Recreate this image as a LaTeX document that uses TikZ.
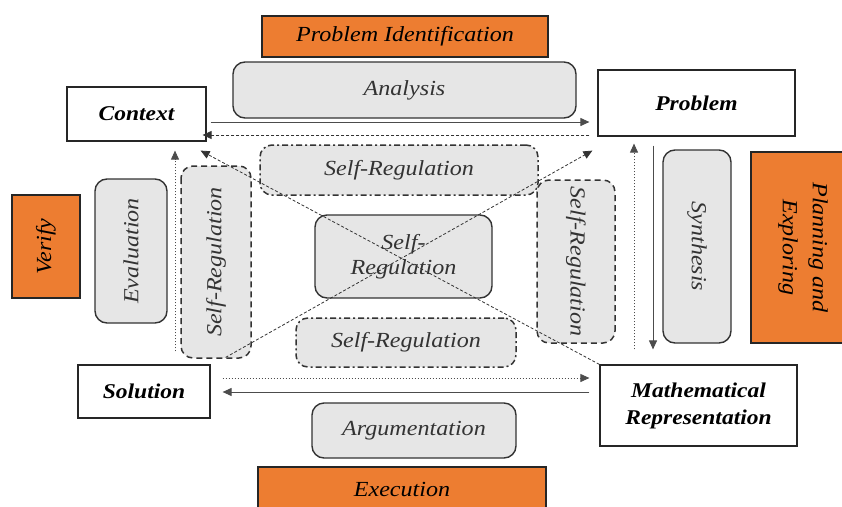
\documentclass[tikz,border=0pt]{standalone}
\usepackage{fontspec}
\setmainfont{Liberation Serif}[FakeStretch=1.12]
\usetikzlibrary{arrows.meta,calc}
\definecolor{orangeC}{HTML}{ED7D31}
\definecolor{grayC}{HTML}{E6E6E6}
\begin{document}
\begin{tikzpicture}[x=1pt,y=-1pt,
  every node/.style={inner sep=0pt, align=center},
  txt/.style={font=\fontsize{21.5}{25}\selectfont\itshape},
  btxt/.style={font=\fontsize{21}{27}\selectfont\bfseries\itshape},
  orangebox/.style={draw=black!85, line width=1.3pt, fill=orangeC, txt},
  graybox/.style={draw=black!80, line width=1.4pt, fill=grayC, rounded corners=12pt, txt, text=black!80},
  whitebox/.style={draw=black!85, line width=1.2pt, fill=white, btxt},
  srdash/.style={draw=black!80, line width=1.5pt, fill=grayC, rounded corners=12pt, dash pattern=on 6pt off 4pt, txt, text=black!80},
  srdashdot/.style={draw=black!80, line width=1.5pt, fill=grayC, rounded corners=12pt, dash pattern=on 6pt off 3pt on 2pt off 3pt, txt, text=black!80},
  tip/.style={-{Triangle[length=9pt,width=8pt]}},
  solidarr/.style={tip, draw=black!70, line width=1pt},
  dasharr/.style={tip, draw=black!80, line width=0.8pt, dash pattern=on 3pt off 2pt},
  dotarr/.style={tip, draw=black!70, line width=0.9pt, dash pattern=on 1.5pt off 1.5pt},
]
\useasboundingbox (0,0) rectangle (842,506);

% top
\node[orangebox, minimum width=286, minimum height=41] (pid) at (405,36.5) {Problem Identification};
\node[graybox, minimum width=343, minimum height=56] (ana) at (404.5,90) {Analysis};
\node[whitebox, minimum width=139, minimum height=54] (ctx) at (136.5,114) {Context};
\node[whitebox, minimum width=197, minimum height=66] (prb) at (696.5,103) {Problem};

% self-regulation boxes
\node[srdashdot, minimum width=278, minimum height=50] (srt) at (399,170) {Self-Regulation};
\node[srdash, rotate=90, minimum width=192, minimum height=70] (srl) at (216,262) {Self-Regulation};
\node[srdash, rotate=-90, minimum width=163, minimum height=78] (srr) at (576,261.5) {Self-Regulation};
\node[srdashdot, minimum width=220, minimum height=49] (srb) at (406,342.5) {Self-Regulation};
\node[graybox, minimum width=177, minimum height=83] (src) at (403.5,256.5) {Self-\\Regulation};

% left side
\node[graybox, rotate=90, minimum width=144, minimum height=72] (eva) at (131,251) {Evaluation};
\node[orangebox, rotate=90, minimum width=103, minimum height=68] (ver) at (46,246.5) {Verify};

% right side
\node[graybox, rotate=-90, minimum width=193, minimum height=68] (syn) at (697,246.5) {Synthesis};
\node[orangebox, rotate=-90, minimum width=191, minimum height=104, font=\fontsize{21.5}{30}\selectfont\itshape] (pla) at (803,247.5) {Planning and\\Exploring};

% bottom
\node[whitebox, minimum width=132, minimum height=53] (sol) at (144,391.5) {Solution};
\node[whitebox, minimum width=197, minimum height=81] (mat) at (698.5,405.5) {Mathematical\\Representation};
\node[graybox, minimum width=204, minimum height=55] (arg) at (414,430.5) {Argumentation};
\node[orangebox, minimum width=288, minimum height=44] (exe) at (402,489) {Execution};

% horizontal connectors
\draw[solidarr] ($(ctx.east)+(4,8)$) -- ($(prb.west)+(-8,19)$);
\draw[dasharr] ($(prb.west)+(-8,32)$) -- ($(ctx.east)+(-4,21)$);
\draw[dotarr] ($(sol.east)+(12,-13.5)$) -- ($(mat.west)+(-10,-27.5)$);
\draw[solidarr] ($(mat.west)+(-10,-13.5)$) -- ($(sol.east)+(12,0.5)$);

% vertical connectors
\draw[dotarr] ($(sol.north)+(31,-13)$) -- ($(ctx.south)+(38.5,9)$);
\draw[dotarr] ($(mat.north)+(-64.5,-15)$) -- ($(prb.south)+(-62.5,7)$);
\draw[solidarr] ($(prb.south)+(-43.5,9)$) -- ($(mat.north)+(-45.5,-15)$);

% diagonals
\draw[dasharr] (mat.north west) -- ($(ctx.south east)+(-6,9)$);
\draw[dasharr] ($(sol.north east)+(15,-7)$) -- ($(prb.south west)+(-5,14)$);
\end{tikzpicture}
\end{document}
